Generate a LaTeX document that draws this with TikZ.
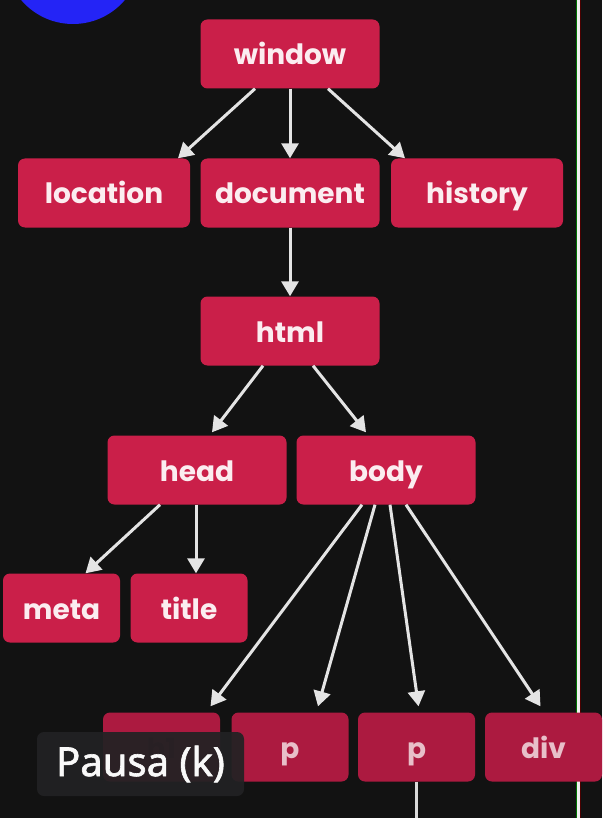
\documentclass[tikz,border=0pt]{standalone}
\usepackage{fontspec}
\setmainfont{Poppins}
\newfontfamily\overlayfont[FakeBold=1.6]{Noto Sans}
\usetikzlibrary{arrows.meta, positioning}

\definecolor{bgdark}{HTML}{121212}
\definecolor{boxred}{HTML}{CA1F49}
\definecolor{boxdim}{HTML}{AC1A40}
\definecolor{arrowgray}{HTML}{E4E4E4}
\definecolor{dotblue}{HTML}{2424F6}
\definecolor{tipgray}{HTML}{222224}

\tikzset{
  domnode/.style={draw=none, fill=boxred, rounded corners=7pt, minimum width=179pt, minimum height=69pt,
    text=white!92!boxred, font=\fontsize{28}{32}\selectfont\bfseries, inner sep=0pt,
    text height=24pt, text depth=2pt},
  smallnode/.style={domnode, minimum width=117pt},
  dimnode/.style={smallnode, fill=boxdim, text=white!72!boxdim},
  arr/.style={line width=3pt, arrowgray, -{Triangle[length=15pt, width=17pt]}}
}

\begin{document}
\begin{tikzpicture}[x=1pt, y=-1pt]

  % Background and frame
  \fill[bgdark] (0,0) rectangle (602,818);
  \useasboundingbox (0,0) rectangle (602,818);
  \begin{scope}
    \clip (0,0) rectangle (602,818);
    \fill[dotblue] (73,-44) circle (68pt);
  \end{scope}
  \draw[line width=1.2pt, green!45!black] (576.8,0) -- (576.8,818);
  \draw[line width=1pt, red!30!black] (580.2,0) -- (580.2,818);
  \draw[line width=2.6pt, white!88!gray] (578.5,0) -- (578.5,818);

  % Top level
  \node[domnode] (window) at (290,54) {window};
  \node[domnode, minimum width=172pt] (location) at (104,193) {location};
  \node[domnode] (document) at (290,193) {document};
  \node[domnode, minimum width=172pt] (history) at (477,193) {history};

  % html tree
  \node[domnode] (html) at (290,331) {html};
  \node[domnode] (head) at (197,470) {head};
  \node[domnode] (body) at (386,470) {body};
  \node[smallnode] (meta) at (61.5,608) {meta};
  \node[smallnode] (title) at (189,608) {title};

  % Body children
  \node[dimnode, text=boxdim!70!black] (h1) at (161.5,747) {h1};
  \node[dimnode] (p1) at (290,747) {p};
  \node[dimnode] (p2) at (416.5,747) {p};
  \node[dimnode] (div) at (543.5,747) {div};
  \coordinate (pend) at (416.5,818);
  \draw[line width=2.5pt, arrowgray!90!gray] (p2.south) -- (pend);

  % Arrows
  \draw[arr] ([xshift=-35pt]window.south) -- ([xshift=74pt]location.north);
  \draw[arr] (window.south) -- (document.north);
  \draw[arr] ([xshift=38pt]window.south) -- ([xshift=-72pt]history.north);
  \draw[arr] (document.south) -- (html.north);
  \draw[arr] ([xshift=-27pt]html.south) -- ([xshift=15pt, yshift=3pt]head.north);
  \draw[arr] ([xshift=23pt]html.south) -- ([xshift=-20pt, yshift=3pt]body.north);
  \draw[arr] ([xshift=-37pt]head.south) -- ([xshift=24pt]meta.north);
  \draw[arr] ([xshift=-1pt]head.south) -- ([xshift=7pt]title.north);
  \draw[arr] ([xshift=-24pt]body.south) -- ([xshift=49pt, yshift=6pt]h1.north);
  \draw[arr] ([xshift=-11pt]body.south) -- ([xshift=28pt, yshift=6pt]p1.north);
  \draw[arr] ([xshift=4pt]body.south) -- ([xshift=2pt, yshift=6pt]p2.north);
  \draw[arr] ([xshift=20pt]body.south) -- ([xshift=-3pt, yshift=6pt]div.north);

  % Pause tooltip
  \node[fill=tipgray, fill opacity=0.93, text opacity=1, rounded corners=7pt, minimum width=207pt,
    minimum height=64pt, inner sep=0pt, text=white!95!gray, font=\overlayfont\fontsize{40}{44}\selectfont]
    (pause) at (140.5,764) {Pausa (k)};

\end{tikzpicture}
\end{document}
